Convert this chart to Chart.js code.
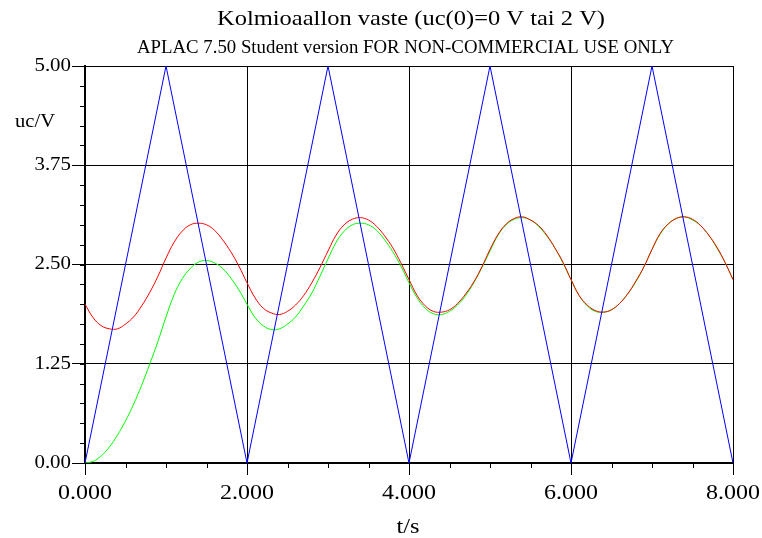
<!DOCTYPE html>
<html>
<head>
<meta charset="utf-8">
<script src="https://cdn.jsdelivr.net/npm/chart.js@4.4.1/dist/chart.umd.min.js"></script>
<style>
  html, body { margin: 0; padding: 0; background: #fff; }
  #wrap { width: 762px; height: 538px; }
</style>
</head>
<body>
<div id="wrap"><canvas id="chart" width="762" height="538"></canvas></div>
<script>
// triangle input, corner points
const triTimes = [0, 1, 2, 3, 4, 5, 6, 7, 8];
const triWave = [0, 5, 0, 5, 0, 5, 0, 5, 0];

// capacitor voltage, sampled every 0.1 s from t = 0 to 8
const sampleStep = 0.1;
const ucFrom2 = [
  2.00, 1.83, 1.73, 1.69, 1.69, 1.75, 1.84, 1.98, 2.15, 2.35, 2.58,
  2.78, 2.92, 3.00, 3.02, 3.00, 2.93, 2.81, 2.66, 2.48, 2.27,
  2.08, 1.95, 1.89, 1.87, 1.91, 1.99, 2.11, 2.27, 2.46, 2.67,
  2.87, 3.00, 3.07, 3.09, 3.06, 2.98, 2.86, 2.71, 2.52, 2.31,
  2.11, 1.98, 1.91, 1.90, 1.93, 2.01, 2.13, 2.28, 2.47, 2.69,
  2.88, 3.01, 3.08, 3.10, 3.06, 2.99, 2.87, 2.71, 2.53, 2.31,
  2.11, 1.99, 1.92, 1.90, 1.93, 2.01, 2.13, 2.29, 2.47, 2.69,
  2.89, 3.01, 3.08, 3.10, 3.07, 2.99, 2.87, 2.72, 2.53, 2.31
];
const ucFrom0 = [
  0.00, 0.02, 0.09, 0.20, 0.35, 0.53, 0.74, 0.98, 1.25, 1.53, 1.84,
  2.12, 2.32, 2.45, 2.53, 2.55, 2.52, 2.45, 2.33, 2.18, 2.00,
  1.83, 1.73, 1.68, 1.69, 1.75, 1.84, 1.98, 2.14, 2.35, 2.57,
  2.78, 2.92, 3.00, 3.02, 3.00, 2.93, 2.81, 2.66, 2.48, 2.27,
  2.08, 1.95, 1.88, 1.87, 1.91, 1.99, 2.11, 2.27, 2.46, 2.67,
  2.87, 3.00, 3.07, 3.09, 3.06, 2.98, 2.86, 2.71, 2.52, 2.31,
  2.11, 1.98, 1.91, 1.90, 1.93, 2.01, 2.13, 2.28, 2.47, 2.69,
  2.88, 3.01, 3.08, 3.10, 3.06, 2.99, 2.87, 2.71, 2.53, 2.31
];

const title = "Kolmioaallon vaste (uc(0)=0 V tai 2 V)";
const subtitle = "APLAC 7.50 Student version FOR NON-COMMERCIAL USE ONLY";
const xLabel = "t/s";
const yLabel = "uc/V";
const xMinorStep = 0.5;
const yMinorStep = 0.25;

const FONT = '"Liberation Serif", "Times New Roman", serif';

const sampled = (arr) => arr.map((v, i) => ({ x: +(i * sampleStep).toFixed(1), y: v }));

// APLAC fonts are a bit wider than Times, so stretch the text horizontally
function stretchText(ctx, text, x, y, size, opts = {}) {
  const { align = "center", baseline = "alphabetic", width, sx = 1 } = opts;
  ctx.save();
  ctx.font = size + "px " + FONT;
  ctx.textAlign = align;
  ctx.textBaseline = baseline;
  const k = width ? width / ctx.measureText(text).width : sx;
  ctx.translate(x, y);
  ctx.scale(k, 1);
  ctx.fillText(text, 0, 0);
  ctx.restore();
}

const decor = {
  id: "decor",
  afterDraw(chart) {
    const { ctx, chartArea: area, scales: { x, y } } = chart;
    ctx.save();
    ctx.strokeStyle = "#000";
    ctx.lineWidth = 1;
    ctx.beginPath();
    for (let v = 0; v <= y.max + 1e-6; v += yMinorStep) {
      const py = Math.round(y.getPixelForValue(v)) + 0.5;
      ctx.moveTo(area.left - 5, py);
      ctx.lineTo(area.left, py);
    }
    for (let v = 0; v <= x.max + 1e-6; v += xMinorStep) {
      const px = Math.round(x.getPixelForValue(v)) + 0.5;
      ctx.moveTo(px, area.bottom);
      ctx.lineTo(px, area.bottom + 5);
    }
    ctx.stroke();
    ctx.fillStyle = "#000";

    x.ticks.forEach((t) => {
      stretchText(ctx, t.value.toFixed(3), x.getPixelForValue(t.value), 499, 20, { sx: 1.2 });
    });
    y.ticks.forEach((t) => {
      stretchText(ctx, t.value.toFixed(2), 71, y.getPixelForValue(t.value), 19, { align: "right", baseline: "middle", sx: 1.1 });
    });

    stretchText(ctx, title, 411, 25, 22, { width: 388 });
    stretchText(ctx, subtitle, 405.5, 53, 19, { width: 537 });
    stretchText(ctx, xLabel, 408, 533, 20, { width: 23 });
    stretchText(ctx, yLabel, 15, 127, 18, { align: "left", width: 40 });
    ctx.restore();
  },
};

new Chart(document.getElementById("chart"), {
  type: "line",
  data: {
    datasets: [
      {
        label: "u",
        data: triTimes.map((t, i) => ({ x: t, y: triWave[i] })),
        borderColor: "#0000ff",
        borderWidth: 1,
        pointRadius: 0,
        tension: 0,
      },
      {
        label: "uc(0)=2 V",
        data: sampled(ucFrom2),
        borderColor: "#ff0000",
        borderWidth: 1,
        pointRadius: 0,
        tension: 0.4,
      },
      {
        label: "uc(0)=0 V",
        data: sampled(ucFrom0),
        borderColor: "#00ff00",
        borderWidth: 1,
        pointRadius: 0,
        tension: 0.4,
      },
    ],
  },
  options: {
    responsive: false,
    animation: false,
    layout: { padding: { top: 66, right: 29, left: 0, bottom: 0 } },
    plugins: { legend: { display: false }, tooltip: { enabled: false } },
    scales: {
      x: {
        type: "linear",
        min: 0,
        max: 8,
        afterFit: (s) => { s.height = 75; },
        border: { color: "#000", width: 2 },
        grid: { color: "#000", lineWidth: 1, tickLength: 12, tickColor: "#000" },
        ticks: { stepSize: 2, display: false },
      },
      y: {
        min: 0,
        max: 5,
        afterFit: (s) => { s.width = 85; },
        border: { color: "#000", width: 2 },
        grid: { color: "#000", lineWidth: 1, tickLength: 13, tickColor: "#000" },
        ticks: { stepSize: 1.25, display: false },
      },
    },
  },
  plugins: [decor],
});
</script>
</body>
</html>
